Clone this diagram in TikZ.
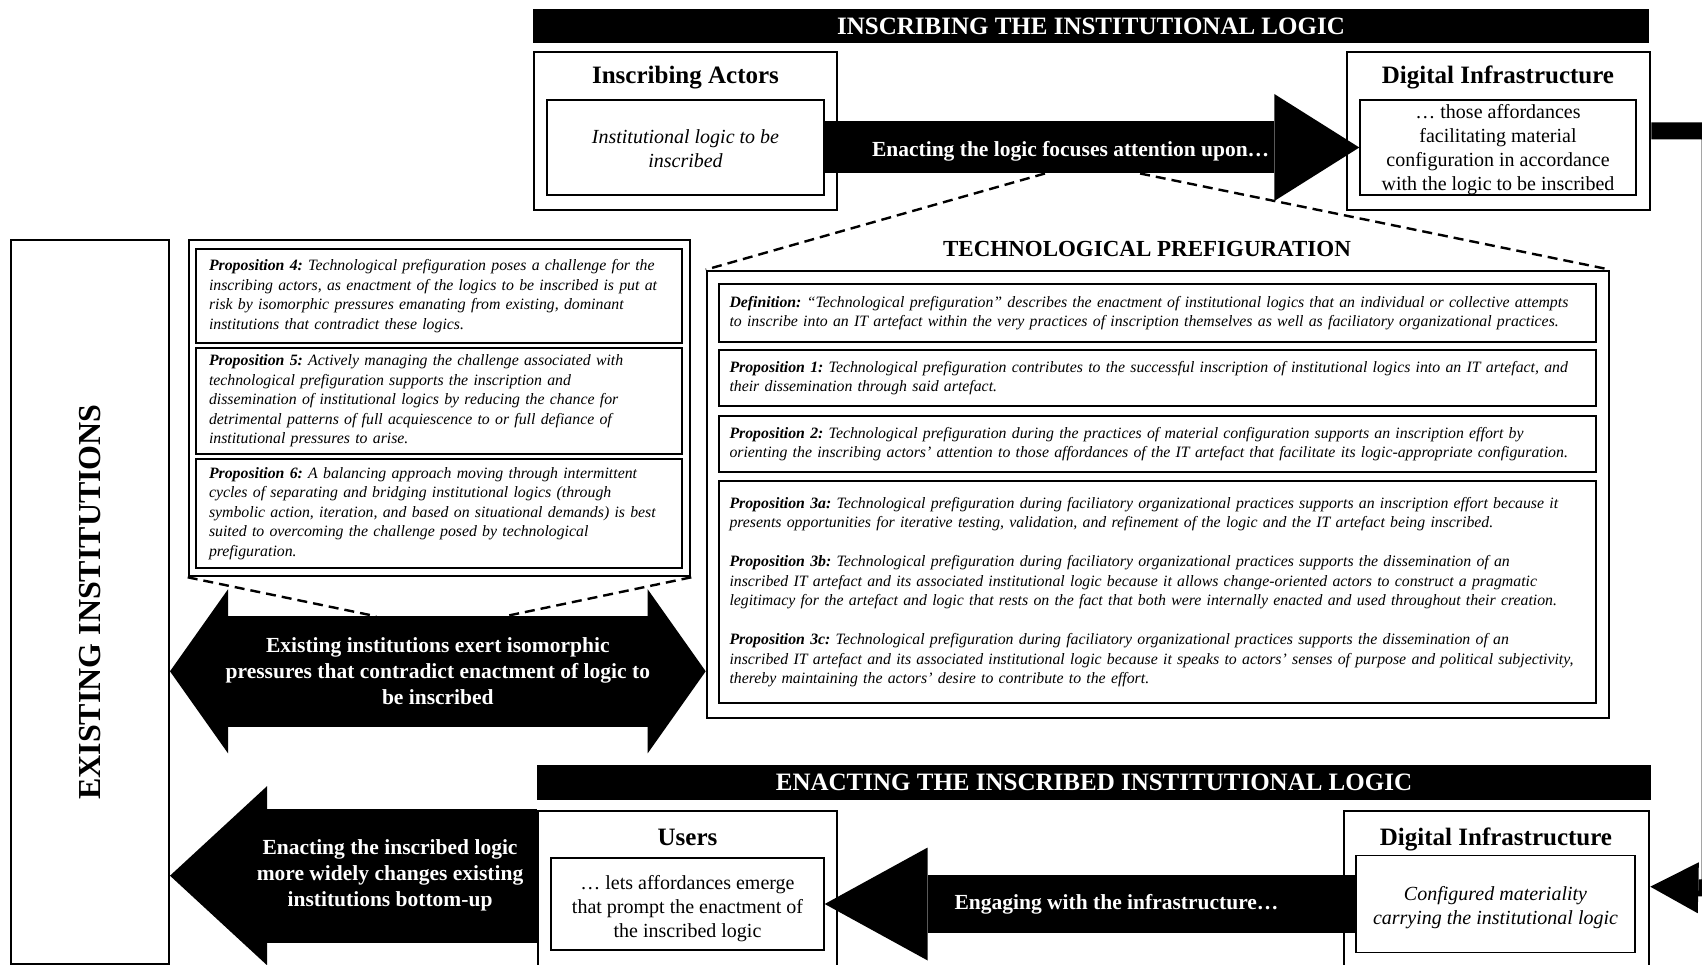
\documentclass[tikz,border=0pt]{standalone}
\usepackage{fontspec}
\setmainfont{Liberation Serif}
\usetikzlibrary{arrows.meta, positioning, calc}
\tikzset{
  headbar/.style={
    fill=black, text=white, inner sep=0pt,
    font=\bfseries\fontsize{25}{30}\selectfont
  },
  outerbox/.style={draw, line width=2.6pt, inner sep=0pt},
  innerbox/.style={
    draw, line width=1.4pt, inner sep=0pt, align=center,
    font=\fontsize{20}{24}\selectfont
  },
  boxtitle/.style={anchor=base, font=\bfseries\fontsize{25}{30}\selectfont},
  propbox/.style={
    draw, line width=1.5pt, inner xsep=12pt, inner ysep=0pt, align=left,
    font=\frenchspacing\itshape\fontsize{15.8}{19.5}\selectfont
  },
  arrowtext/.style={text=white, align=center, font=\bfseries\fontsize{21.5}{26}\selectfont},
  zoomline/.style={dash pattern=on 10pt off 6pt, line width=2.4pt}
}
% lower a text block inside its box without changing its size
\newcommand{\lowertext}[3]{\raisebox{-#1}[\height][\depth]{\parbox{#2}{\centering #3}}}

\begin{document}
\begin{tikzpicture}[x=1pt, y=-1pt]
  \useasboundingbox (0,0) rectangle (1702,965);
  \fill[white] (0,0) rectangle (1702,965);

  % inscribing band
  \node[headbar, minimum width=1116pt, minimum height=34pt] (inshead) at (1091,26) {INSCRIBING THE INSTITUTIONAL LOGIC};
  \node[outerbox, minimum width=303pt, minimum height=158pt] (actors) at (685.5,131) {};
  \node[boxtitle] at (685.5,84) {Inscribing Actors};
  \node[innerbox, font=\itshape\fontsize{20}{24}\selectfont, minimum width=277pt, minimum height=95pt] (actin) at (685.5,147.5) {\lowertext{1pt}{270pt}{Institutional logic to be\\inscribed}};
  \node[outerbox, minimum width=303pt, minimum height=158pt] (diginf) at (1498.5,131) {};
  \node[boxtitle] at (1498,84) {Digital Infrastructure};
  \node[innerbox, minimum width=276pt, minimum height=95pt] (digin) at (1498,147.5) {\lowertext{2pt}{270pt}{… those affordances\\facilitating material\\configuration in accordance\\with the logic to be inscribed}};

  % existing institutions
  \node[draw, line width=2pt, minimum width=158pt, minimum height=724pt] (exist) at (90,602) {};
  \node[rotate=90, font=\bfseries\fontsize{32}{36}\selectfont] at (exist.center) {EXISTING INSTITUTIONS};

  % propositions 4-6
  \node[outerbox, minimum width=501pt, minimum height=336pt] (props) at (439.5,408) {};
  \node[propbox, text width=460pt, minimum width=486pt, minimum height=94pt] (prop4) at (439,296) {\textbf{Proposition 4:} Technological prefiguration poses a challenge for the\\inscribing actors, as enactment of the logics to be inscribed is put at\\risk by isomorphic pressures emanating from existing, dominant\\institutions that contradict these logics.};
  \node[propbox, text width=460pt, minimum width=486pt, minimum height=106pt] (prop5) at (439,401) {\textbf{Proposition 5:} Actively managing the challenge associated with\\technological prefiguration supports the inscription and\\dissemination of institutional logics by reducing the chance for\\detrimental patterns of full acquiescence to or full defiance of\\institutional pressures to arise.};
  \node[propbox, text width=460pt, minimum width=486pt, minimum height=109pt] (prop6) at (439,513.5) {\textbf{Proposition 6:} A balancing approach moving through intermittent\\cycles of separating and bridging institutional logics (through\\symbolic action, iteration, and based on situational demands) is best\\suited to overcoming the challenge posed by technological\\prefiguration.};

  % technological prefiguration
  \node[outerbox, minimum width=902pt, minimum height=447pt] (prefig) at (1158,494.5) {};
  \node[boxtitle, font=\bfseries\fontsize{23}{28}\selectfont] at (1147,257) {TECHNOLOGICAL PREFIGURATION};
  \node[propbox, inner xsep=10.5pt, text width=856pt, minimum height=58pt] (defn) at (1157.5,313) {\textbf{Definition:} “Technological prefiguration” describes the enactment of institutional logics that an individual or collective attempts\\to inscribe into an IT artefact within the very practices of inscription themselves as well as faciliatory organizational practices.};
  \node[propbox, inner xsep=10.5pt, text width=856pt, minimum height=56pt] (prop1) at (1157.5,378) {\textbf{Proposition 1:} Technological prefiguration contributes to the successful inscription of institutional logics into an IT artefact, and\\their dissemination through said artefact.};
  \node[propbox, inner xsep=10.5pt, text width=856pt, minimum height=56pt] (prop2) at (1157.5,444) {\textbf{Proposition 2:} Technological prefiguration during the practices of material configuration supports an inscription effort by\\orienting the inscribing actors’ attention to those affordances of the IT artefact that facilitate its logic-appropriate configuration.};
  \node[propbox, inner xsep=10.5pt, text width=856pt, minimum height=222pt] (prop3) at (1157.5,592) {\textbf{Proposition 3a:} Technological prefiguration during faciliatory organizational practices supports an inscription effort because it\\presents opportunities for iterative testing, validation, and refinement of the logic and the IT artefact being inscribed.\\[19.5pt]
    \textbf{Proposition 3b:} Technological prefiguration during faciliatory organizational practices supports the dissemination of an\\inscribed IT artefact and its associated institutional logic because it allows change-oriented actors to construct a pragmatic\\legitimacy for the artefact and logic that rests on the fact that both were internally enacted and used throughout their creation.\\[19.5pt]
    \textbf{Proposition 3c:} Technological prefiguration during faciliatory organizational practices supports the dissemination of an\\inscribed IT artefact and its associated institutional logic because it speaks to actors’ senses of purpose and political subjectivity,\\thereby maintaining the actors’ desire to contribute to the effort.};

  % enacting band
  \node[headbar, minimum width=1114pt, minimum height=35pt] (enahead) at (1094,782.5) {ENACTING THE INSCRIBED INSTITUTIONAL LOGIC};
  \node[outerbox, minimum width=299pt, minimum height=164pt] (users) at (687.5,893) {};
  \node[boxtitle] at (687.5,845) {Users};
  \node[innerbox, minimum width=273pt, minimum height=92pt] (usin) at (687.5,904) {\lowertext{4.5pt}{266pt}{… lets affordances emerge\\that prompt the enactment of\\the inscribed logic}};
  \node[outerbox, minimum width=305pt, minimum height=164pt] (digbot) at (1496.5,893) {};
  \node[boxtitle] at (1496,845) {Digital Infrastructure};
  \node[innerbox, font=\itshape\fontsize{20}{24}\selectfont, minimum width=279pt, minimum height=97pt] (digbotin) at (1495.5,904) {\lowertext{3.5pt}{272pt}{Configured materiality\\carrying the institutional logic}};

  % fat arrows
  \draw[line width=52pt, -{Triangle[width=107pt 0, length=85pt 0, line width=0pt 0]}] (actin.east) -- (digin.west)
    node[arrowtext, pos=0.46, yshift=-4pt] {Enacting the logic focuses attention upon…}
    coordinate[pos=0.412, yshift=-26pt] (zoomL)
    coordinate[pos=0.59, yshift=-26pt] (zoomR);
  \draw[zoomline] (zoomL) -- (prefig.north west);
  \draw[zoomline] (zoomR) -- (prefig.north east);

  \coordinate (presmid) at ([yshift=-94pt]props.south);
  \draw[line width=111pt, {Triangle[width=164pt 0, length=58pt 0, line width=0pt 0]}-{Triangle[width=164pt 0, length=58pt 0, line width=0pt 0]}] (exist.east |- presmid) -- (prefig.west |- presmid)
    node[arrowtext, pos=0.5] {Existing institutions exert isomorphic\\pressures that contradict enactment of logic to\\be inscribed}
    coordinate[pos=0.385, yshift=55pt] (presL)
    coordinate[pos=0.625, yshift=55pt] (presR);
  \draw[zoomline] (props.south west) -- (presL);
  \draw[zoomline] (props.south east) -- (presR);

  \draw[line width=58pt, -{Triangle[width=113pt 0, length=103pt 0, line width=0pt 0]}] (digbotin.west) -- (usin.east)
    node[arrowtext, pos=0.45] {Engaging with the infrastructure…};

  \coordinate (usersmid) at ([yshift=-66pt]users.north west);
  \draw[line width=134pt, -{Triangle[width=179pt 0, length=97pt 0, line width=0pt 0]}] (usersmid) -- (usersmid -| exist.east)
    node[arrowtext, pos=0.40] {Enacting the inscribed logic\\more widely changes existing\\institutions bottom-up};

  % loop back on the right edge
  \coordinate (loopR) at (1710,888);
  \coordinate (digbotmid) at ([yshift=-77pt]digbot.north east);
  \draw[line width=17pt, -{Triangle[width=51pt 0, length=48pt 0, line width=0pt 0]}] (diginf.east) -| (loopR) -- (digbotmid);
\end{tikzpicture}
\end{document}
